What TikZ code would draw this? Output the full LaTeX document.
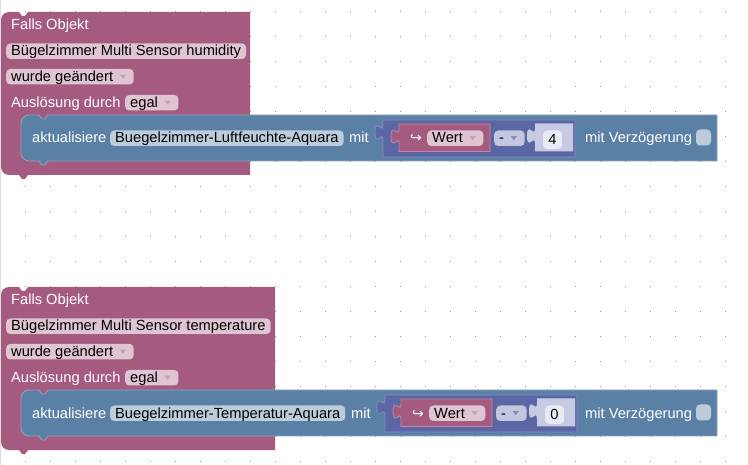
\documentclass[tikz,border=0pt]{standalone}
\usepackage{fontspec}
\setmainfont{Liberation Sans}
\newfontfamily\pfeilfont{DejaVu Sans}
\usetikzlibrary{calc}

\definecolor{lila}{HTML}{A55B80}
\definecolor{lilafeld}{HTML}{DFC4D1}
\definecolor{lilarand}{HTML}{BE8AA4}
\definecolor{blau}{HTML}{5B80A5}
\definecolor{blaufeld}{HTML}{BDCCDB}
\definecolor{blaurand}{HTML}{8DA5BE}
\definecolor{indigo}{HTML}{5B67A5}
\definecolor{indigofeld}{HTML}{C2C6DF}
\definecolor{indigorand}{HTML}{848DBF}
\definecolor{zahlblock}{HTML}{C6CAE2}
\definecolor{zahlfeld}{HTML}{E9EBF4}
\definecolor{punkt}{HTML}{999999}

\tikzset{
  schrift/.style={font=\fontsize{14.67pt}{17pt}\selectfont, text height=12pt,
    text depth=2.5pt, inner ysep=0.5pt, inner xsep=0pt, anchor=base west},
  etikett/.style={schrift, text=white},
  feld/.style={schrift, inner xsep=5pt, fill=#1, rounded corners=4pt, text=black}
}

% Platz und Dreieck im Auswahlfeld
\newcommand{\platz}{\rule{15.5pt}{0pt}}
\newcommand{\auswahl}[2]{\fill[#2] ($(#1.east)+(-14,-2)$) -- ++(6,0) -- ++(-3,4) -- cycle;}

\begin{document}
\begin{tikzpicture}[x=1pt, y=-1pt]
    \useasboundingbox (0,0) rectangle (748,465);
    \fill[white] (0,0) rectangle (748,465);
    \fill[black!13] (0,0) rectangle (1,465);

    % Raster
    \foreach \gx in {1,...,29}
      \foreach \gy in {0,...,18}
        \fill[punkt] (25*\gx+0.2,25*\gy+11) rectangle ++(1,1);

    % Bloecke
    \foreach \dy/\sensor/\rechts/\ziel/\dx/\zahl [count=\i] in
      {0/humidity/250/Luftfeuchte/0/4, 275/temperature/275/Temperatur/2/0}
    {
    \begin{scope}[shift={(0,\dy)}]
      % Falls Objekt
      \fill[lila] (1,100) [rounded corners=8pt] -- (1,12) [sharp corners] -- (16,12)
        -- ++(3,0) -- ++(3,4) -- ++(3,0) -- ++(3,-4) -- ++(3,0)
        -- (\rechts,12) -- (\rechts,175) -- (31,175)
        -- ++(-3,0) -- ++(-3,4) -- ++(-3,0) -- ++(-3,-4) -- ++(-3,0)
        [rounded corners=8pt] -- (1,175) -- cycle;
      \node (falls\i) [etikett] at (11,30) {Falls Objekt};
      \node (sensor\i) [feld=lilafeld] at (6,56) {Bügelzimmer Multi Sensor \sensor};
      \node (wurde\i) [feld=lilafeld] at (6,81.5) {wurde geändert\platz};
      \auswahl{wurde\i}{lila!60!white}
      \node (ausl\i) [etikett] at (11,107.5) {Auslösung durch};
      \node (egal\i) [feld=lilafeld] at (125,107.5) {egal\platz};
      \auswahl{egal\i}{lila!60!white}

      % aktualisiere
      \filldraw[fill=blau, draw=blaurand, line width=.8pt]
        (21,140) [rounded corners=8pt] -- (21,115) [sharp corners] -- (36,115)
        -- ++(3,0) -- ++(3,4) -- ++(3,0) -- ++(3,-4) -- ++(3,0)
        -- (717,115) -- (717,161) -- (51,161)
        -- ++(-3,0) -- ++(-3,4) -- ++(-3,0) -- ++(-3,-4) -- ++(-3,0)
        [rounded corners=8pt] -- (21,161) -- cycle;
      \node (akt\i) [etikett] at (32,143) {aktualisiere};
      \node (ziel\i) [feld=blaufeld] at (110,143) {Buegelzimmer-\ziel-Aquara};

      \begin{scope}[xshift=\dx pt]
        \node (mit\i) [etikett] at (349,143) {mit};
        % Rechenblock
        \filldraw[fill=indigo, draw=indigorand, line width=.8pt]
          (383,120) -- (575,120) -- (575,157) -- (383,157) -- (383,140)
          .. controls (383,130) and (375,148) .. (375,132.5)
          .. controls (375,117) and (383,135) .. (383,125) -- cycle;
        \filldraw[fill=lila, draw=lilarand, line width=.8pt]
          (399,124) -- (490,124) -- (490,151.5) -- (399,151.5) -- (399,144)
          .. controls (399,134) and (391,152) .. (391,136.5)
          .. controls (391,121) and (399,139) .. (399,129) -- cycle;
        \node (pfeil\i) [etikett, font=\pfeilfont\fontsize{14pt}{17pt}\selectfont] at (410,143) {↪};
        \node (wert\i) [feld=lilafeld] at (427,143) {Wert\platz};
        \auswahl{wert\i}{lila!60!white}
        \node (op\i) [feld=indigofeld] at (494,143) {-\platz};
        \auswahl{op\i}{indigo!75!white}
        \fill[zahlblock]
          (535,123.5) -- (573,123.5) -- (573,151.5) -- (535,151.5) -- (535,143.5)
          .. controls (535,133.5) and (527,151.5) .. (527,136)
          .. controls (527,120.5) and (535,138.5) .. (535,128.5) -- cycle;
        \node (zahl\i) [feld=zahlfeld, anchor=base, inner xsep=5.4pt, inner ysep=2pt]
          at (552.5,144.5) {\zahl};
      \end{scope}

      \node (verz\i) [etikett] at (585,143) {mit Verzögerung};
      \node (haken\i) [fill=blaufeld, rounded corners=4pt, inner sep=0pt,
        minimum width=15pt, minimum height=16pt] at (703.5,137.5) {};
    \end{scope}
    }
\end{tikzpicture}
\end{document}
